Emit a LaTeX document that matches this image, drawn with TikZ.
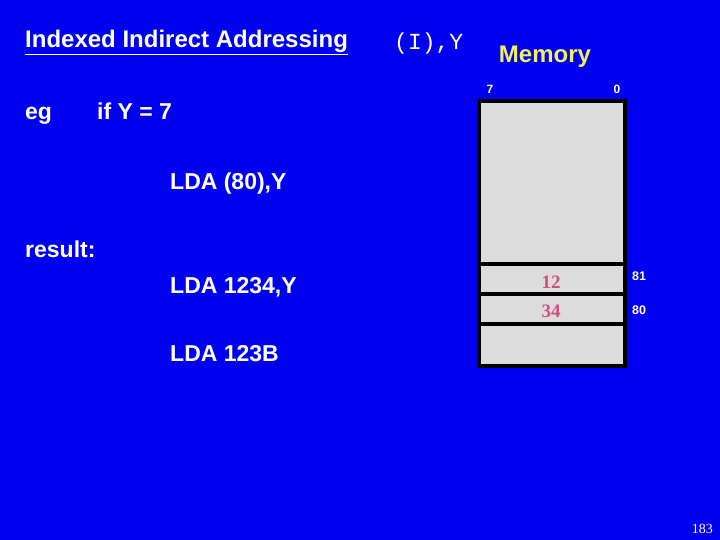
\documentclass[tikz,border=0pt]{standalone}
\usepackage{fontspec}
\setmainfont{Liberation Sans}
\newfontfamily\serifface{Liberation Serif}
\newfontfamily\monoface{Liberation Mono}
\definecolor{slideblue}{RGB}{0,0,240}
\definecolor{cellgray}{RGB}{220,220,220}
\definecolor{memyellow}{RGB}{240,240,96}
\definecolor{valpink}{RGB}{208,80,128}

\begin{document}
\begin{tikzpicture}[
    x=1pt, y=-1pt,
    txt/.style={
        anchor=base west,
        inner sep=0pt,
        text=white,
        font=\fontsize{23}{27}\selectfont\bfseries
    },
    cell/.style={
        draw=black,
        fill=cellgray,
        line width=3.5pt
    },
    bitlabel/.style={
        anchor=base,
        inner sep=0pt,
        text=white,
        font=\fontsize{12}{14}\selectfont\bfseries
    },
    addr/.style={
        anchor=base west,
        inner sep=0pt,
        text=white,
        font=\fontsize{12.5}{14}\selectfont\bfseries
    },
    value/.style={
        anchor=base,
        inner sep=0pt,
        text=valpink,
        font=\fontsize{19}{22}\selectfont\serifface\bfseries
    }
]

\fill[slideblue] (0,0) rectangle (720,540);

\node[txt, font=\fontsize{24}{28}\selectfont\bfseries] (title) at (25,48) {\underline{Indexed Indirect Addressing}};
\node[txt, font=\fontsize{23}{27}\selectfont\monoface] (mode) at (394,50) {(I),Y};
\node[anchor=base, inner sep=0pt, text=memyellow,
      font=\fontsize{24}{28}\selectfont\bfseries] (memory) at (545,63) {Memory};

\node[txt] (eg) at (25,120) {eg};
\node[txt] (ifY) at (97,120) {if Y = 7};
\node[txt] (lda) at (170,190) {LDA (80),Y};
\node[txt] (result) at (25,257) {result:};
\node[txt] (ldaabs) at (170,293) {LDA 1234,Y};
\node[txt] (ldaeff) at (170,361) {LDA 123B};

\node[bitlabel] (bit7) at (490,94) {7};
\node[bitlabel] (bit0) at (617,94) {0};

\draw[cell] (479,101) rectangle (625,264);
\draw[cell] (479,264) rectangle (625,294);
\draw[cell] (479,294) rectangle (625,324);
\draw[cell] (479,324) rectangle (625,366);

\node[value] (hi) at (551,288) {12};
\node[value] (lo) at (551,317) {34};
\node[addr] (a81) at (632,280) {81};
\node[addr] (a80) at (632,314) {80};

\node[anchor=base east, inner sep=0pt, text=white,
      font=\fontsize{14}{16}\selectfont\serifface] (page) at (713,533) {183};

\end{tikzpicture}
\end{document}
